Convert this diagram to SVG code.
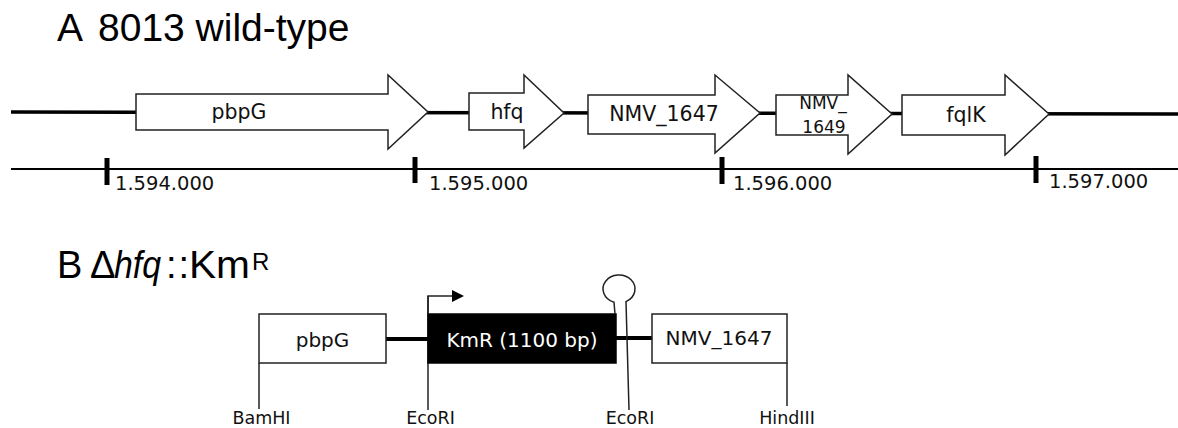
<svg xmlns="http://www.w3.org/2000/svg" width="1178" height="428" viewBox="0 0 1178 428">
<style>
  text { font-family: "DejaVu Sans", "Liberation Sans", sans-serif; fill: #111; }
  .title { font-family: "Liberation Sans", Arial, sans-serif; font-size: 39px; fill: #000; }
  .gene { fill: #fff; stroke: #222; stroke-width: 1.5; stroke-linejoin: miter; }
  .glabel { font-size: 20.5px; text-anchor: middle; }
  .small { font-size: 17px; text-anchor: middle; }
  .tick { stroke: #000; stroke-width: 5; }
  .tlabel { font-size: 19.5px; }
  .back { stroke: #000; stroke-width: 3.5; fill: none; }
  .ruler { stroke: #000; stroke-width: 2; fill: none; }
  .thin { stroke: #222; stroke-width: 1.5; fill: none; }
  .box { fill: #fff; stroke: #222; stroke-width: 1.5; }
  .blabel { font-size: 20px; text-anchor: middle; }
  .site { font-size: 17.5px; text-anchor: middle; }
</style>
<rect width="1178" height="428" fill="#fff"/>

<!-- Panel A title -->
<g id="titleA">
  <text class="title" x="57" y="41">A</text>
  <text class="title" x="98" y="41">8013 wild-type</text>
</g>

<!-- connectors: backbones and ruler -->
<g id="connectors">
  <line class="back" x1="11" y1="112" x2="1178" y2="114"/>
  <line class="ruler" x1="11" y1="169" x2="1178" y2="169"/>
  <line class="back" x1="386" y1="339" x2="428" y2="339" style="stroke-width:4"/>
  <line class="back" x1="616" y1="338" x2="652" y2="338" style="stroke-width:4"/>
</g>

<!-- Panel A genes -->
<g id="gene-pbpG">
  <polygon class="gene" points="136,94 388,94 388,75 428,112 388,149 388,130 136,130"/>
  <text class="glabel" x="239" y="119">pbpG</text>
</g>
<g id="gene-hfq">
  <polygon class="gene" points="469,93 524,93 524,75 564,113 524,148 524,130 469,130"/>
  <text class="glabel" x="507" y="119">hfq</text>
</g>
<g id="gene-NMV_1647">
  <polygon class="gene" points="588,95 715,95 715,75 760,113 715,153 715,134 588,134"/>
  <text class="glabel" x="664" y="121">NMV_1647</text>
</g>
<g id="gene-NMV_1649">
  <polygon class="gene" points="776,95 848,95 848,75 892,114 848,154 848,135 776,135"/>
  <text class="small" x="823" y="109">NMV_</text>
  <text class="small" x="824" y="133">1649</text>
</g>
<g id="gene-fqlK">
  <polygon class="gene" points="902,95 1005,95 1005,75 1049,114 1005,155 1005,135 902,135"/>
  <text class="glabel" x="966" y="122">fqlK</text>
</g>

<!-- Ruler ticks -->
<g id="ruler-ticks">
  <line class="tick" x1="107" y1="158" x2="107" y2="185"/>
  <line class="tick" x1="415" y1="157" x2="415" y2="183"/>
  <line class="tick" x1="722" y1="157" x2="722" y2="184"/>
  <line class="tick" x1="1036" y1="156" x2="1036" y2="183"/>
  <text class="tlabel" x="115" y="190">1.594.000</text>
  <text class="tlabel" x="429" y="190">1.595.000</text>
  <text class="tlabel" x="733" y="190">1.596.000</text>
  <text class="tlabel" x="1049" y="188">1.597.000</text>
</g>

<!-- Panel B title -->
<g id="titleB">
  <text class="title" y="278" style="font-size:38px"><tspan x="57">B</tspan><tspan x="90">Δ</tspan><tspan x="114" font-style="italic" textLength="47" lengthAdjust="spacingAndGlyphs">hfq</tspan><tspan x="166" letter-spacing="2">::</tspan><tspan x="189" textLength="61" lengthAdjust="spacingAndGlyphs">Km</tspan><tspan x="252" y="270" style="font-size:24px">R</tspan></text>
</g>

<!-- Panel B construct -->
<g id="site-BamHI">
  <line class="thin" x1="259" y1="363" x2="259" y2="409"/>
  <text class="site" x="261.5" y="424">BamHI</text>
</g>
<g id="site-EcoRI-1">
  <line class="thin" x1="428" y1="296" x2="428" y2="410"/>
  <text class="site" x="430.5" y="424">EcoRI</text>
</g>
<g id="site-HindIII">
  <line class="thin" x1="787" y1="363" x2="787" y2="406"/>
  <text class="site" x="787" y="424">HindIII</text>
</g>
<g id="box-pbpG">
  <rect class="box" x="259" y="314" width="127" height="49"/>
  <text class="blabel" x="322.5" y="347">pbpG</text>
</g>
<g id="box-KmR">
  <rect x="428" y="314" width="188" height="49" fill="#000" stroke="#000" stroke-width="1.5"/>
  <text class="blabel" x="522" y="347" style="fill:#fff">KmR (1100 bp)</text>
</g>
<g id="box-NMV_1647">
  <rect class="box" x="652" y="314" width="135" height="49"/>
  <text class="blabel" x="719" y="345">NMV_1647</text>
</g>
<g id="promoter">
  <path class="thin" d="M428 314 V296 H454"/>
  <polygon points="452,290 464,296 452,302" fill="#000"/>
</g>
<g id="terminator">
  <path class="thin" d="M615 314 L614 302.3 A16 14 0 1 1 626 301.6 L629 410"/>
  <text class="site" x="630" y="424">EcoRI</text>
</g>
</svg>
